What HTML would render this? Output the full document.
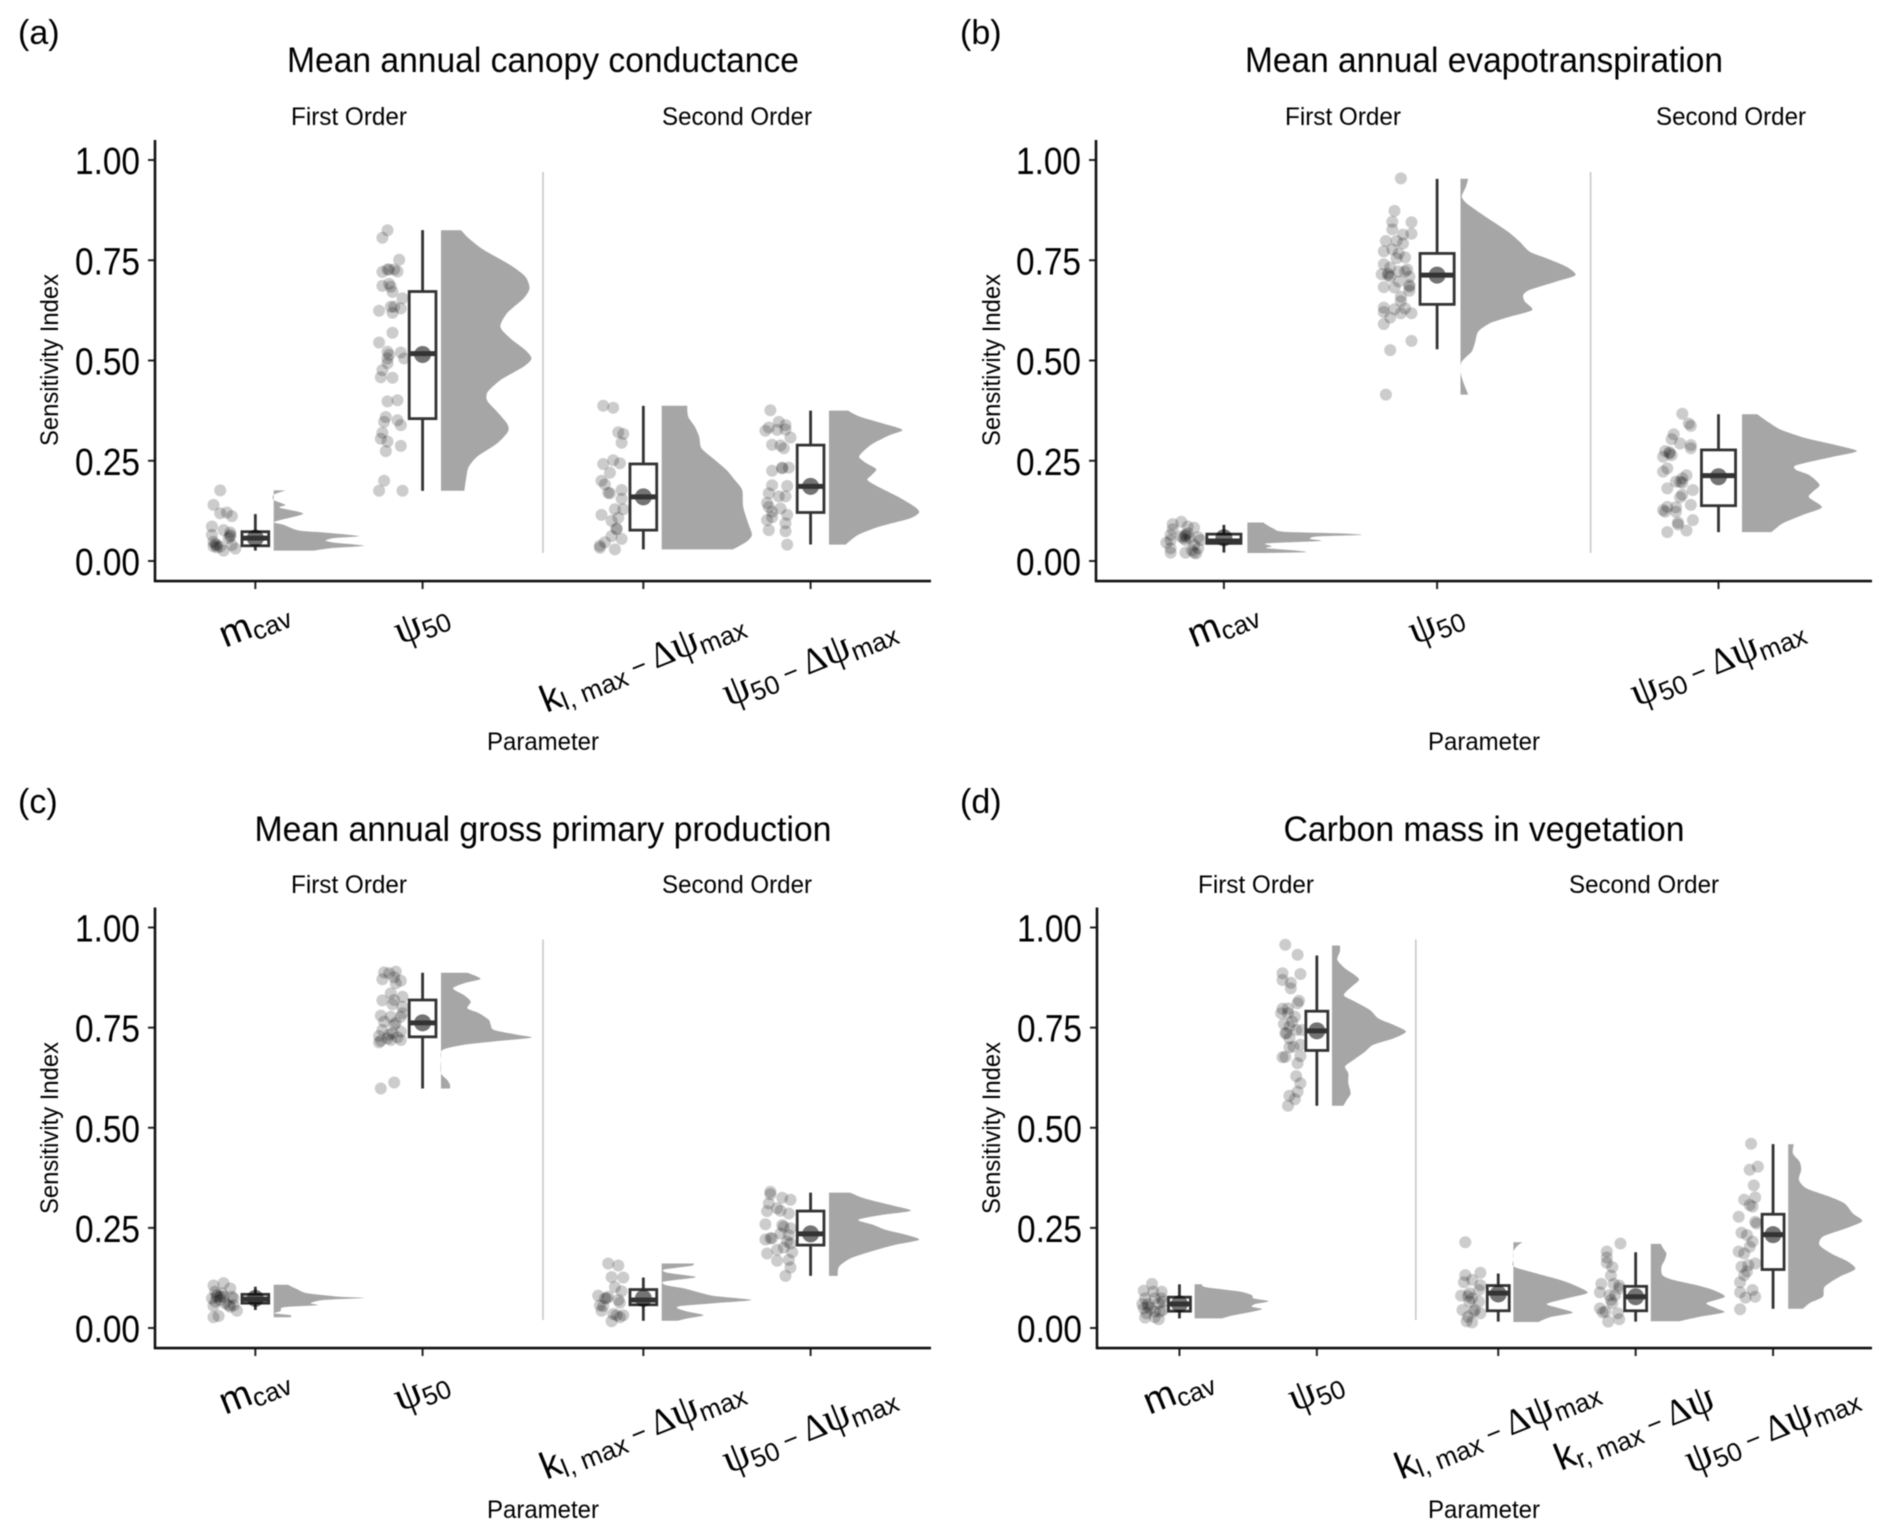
<!DOCTYPE html>
<html lang="en">
<head>
<meta charset="utf-8">
<title>Sensitivity index raincloud plots</title>
<style>
html,body{margin:0;padding:0;background:#fff;}
svg{display:block;font-family:"Liberation Sans",sans-serif;filter:blur(0.45px);}
.panel-tag{font-size:34px;fill:#000;}
.chart-title{font-size:35px;fill:#000;}
.facet,.axis-title{font-size:25px;fill:#000;}
.y-tick{font-size:38px;fill:#000;}
.x-label{font-size:36px;fill:#000;}
</style>
</head>
<body>
<svg id="figure" xmlns="http://www.w3.org/2000/svg" width="1892" height="1538" viewBox="0 0 1892 1538">
  <rect x="0" y="0" width="1892" height="1538" fill="#fff"/>

  <text class="panel-tag" x="18" y="44">(a)</text>
  <text class="chart-title" x="543" y="72" text-anchor="middle" textLength="512" lengthAdjust="spacingAndGlyphs">Mean annual canopy conductance</text>
  <text class="facet" x="349" y="125" text-anchor="middle" textLength="116" lengthAdjust="spacingAndGlyphs">First Order</text>
  <text class="facet" x="737" y="125" text-anchor="middle" textLength="150" lengthAdjust="spacingAndGlyphs">Second Order</text>
  <text class="axis-title" transform="translate(58,360) rotate(-90)" text-anchor="middle" textLength="172" lengthAdjust="spacingAndGlyphs">Sensitivity Index</text>
  <text class="axis-title" x="543" y="750" text-anchor="middle" textLength="112" lengthAdjust="spacingAndGlyphs">Parameter</text>

  <text class="panel-tag" x="960" y="44">(b)</text>
  <text class="chart-title" x="1484" y="72" text-anchor="middle" textLength="478" lengthAdjust="spacingAndGlyphs">Mean annual evapotranspiration</text>
  <text class="facet" x="1343" y="125" text-anchor="middle" textLength="116" lengthAdjust="spacingAndGlyphs">First Order</text>
  <text class="facet" x="1731" y="125" text-anchor="middle" textLength="150" lengthAdjust="spacingAndGlyphs">Second Order</text>
  <text class="axis-title" transform="translate(1000,360) rotate(-90)" text-anchor="middle" textLength="172" lengthAdjust="spacingAndGlyphs">Sensitivity Index</text>
  <text class="axis-title" x="1484" y="750" text-anchor="middle" textLength="112" lengthAdjust="spacingAndGlyphs">Parameter</text>

  <text class="panel-tag" x="18" y="813">(c)</text>
  <text class="chart-title" x="543" y="841" text-anchor="middle" textLength="577" lengthAdjust="spacingAndGlyphs">Mean annual gross primary production</text>
  <text class="facet" x="349" y="893" text-anchor="middle" textLength="116" lengthAdjust="spacingAndGlyphs">First Order</text>
  <text class="facet" x="737" y="893" text-anchor="middle" textLength="150" lengthAdjust="spacingAndGlyphs">Second Order</text>
  <text class="axis-title" transform="translate(58,1128) rotate(-90)" text-anchor="middle" textLength="172" lengthAdjust="spacingAndGlyphs">Sensitivity Index</text>
  <text class="axis-title" x="543" y="1518" text-anchor="middle" textLength="112" lengthAdjust="spacingAndGlyphs">Parameter</text>

  <text class="panel-tag" x="960" y="813">(d)</text>
  <text class="chart-title" x="1484" y="841" text-anchor="middle" textLength="401" lengthAdjust="spacingAndGlyphs">Carbon mass in vegetation</text>
  <text class="facet" x="1256" y="893" text-anchor="middle" textLength="116" lengthAdjust="spacingAndGlyphs">First Order</text>
  <text class="facet" x="1644" y="893" text-anchor="middle" textLength="150" lengthAdjust="spacingAndGlyphs">Second Order</text>
  <text class="axis-title" transform="translate(1000,1128) rotate(-90)" text-anchor="middle" textLength="172" lengthAdjust="spacingAndGlyphs">Sensitivity Index</text>
  <text class="axis-title" x="1484" y="1518" text-anchor="middle" textLength="112" lengthAdjust="spacingAndGlyphs">Parameter</text>
</svg>
<script>
/* ---------- shared axis data ---------- */
const yTickValues = [0, 0.25, 0.5, 0.75, 1];
const yTickLabels = ["0.00", "0.25", "0.50", "0.75", "1.00"];

/* label segments: [text, style] */
const labelMcav = [["m","main"],["cav","sub"]];
const labelPsi50 = [["ψ","greek"],["50","sub"]];
const labelKlMax = [["k","main"],["l, max","sub"],[" − ","op"],["Δ","delta"],["ψ","greek"],["max","sub"]];
const labelKrMax = [["k","main"],["r, max","sub"],[" − ","op"],["Δ","delta"],["ψ","greek"]];
const labelPsi50Max = [["ψ","greek"],["50","sub"],[" − ","op"],["Δ","delta"],["ψ","greek"],["max","sub"]];

/* ---------- panel a ---------- */
const aCategories = [labelMcav, labelPsi50, labelKlMax, labelPsi50Max];
const aFacetSizes = [2, 2];
/* box stats: min, q1, median, q3, max, mean */
const aBoxStats = [
  [.026,.038,.057,.073,.117,.057],
  [.175,.355,.517,.672,.825,.515],
  [.029,.077,.160,.242,.387,.160],
  [.041,.121,.186,.289,.375,.186]
];
const aValues = [
  [.176,.140,.119,.121,.112,.086,.065,.077,.065,.057,.071,.048,.042,.040,.036,.040,.026,.031,.034,.037,.061],
  [.825,.806,.751,.721,.727,.727,.727,.722,.686,.691,.684,.671,.655,.624,.634,.634,.630,.619,.569,.545,.522,.514,.505,.520,.505,.493,.476,.458,.457,.398,.401,.359,.347,.351,.339,.320,.305,.298,.274,.287,.200,.175,.175],
  [.387,.382,.321,.317,.295,.242,.251,.244,.220,.200,.191,.170,.177,.155,.129,.129,.115,.108,.100,.079,.062,.055,.047,.033,.029,.038,.081,.169],
  [.376,.347,.333,.325,.327,.339,.328,.308,.290,.288,.281,.225,.233,.233,.189,.187,.169,.161,.161,.145,.135,.131,.123,.109,.102,.115,.094,.077,.074,.041,.231]
];
const aJitter = [
  [-.21,-.25,-.21,-.17,-.14,-.26,-.26,-.19,-.15,-.16,-.15,-.25,-.24,-.23,-.21,-.14,-.19,-.12,-.23,-.25,-.15],
  [-.21,-.24,-.14,-.24,-.21,-.20,-.17,-.15,-.24,-.20,-.19,-.18,-.12,-.26,-.19,-.17,-.13,-.18,-.18,-.26,-.21,-.20,-.21,-.13,-.11,-.21,-.24,-.25,-.18,-.21,-.15,-.22,-.23,-.15,-.13,-.24,-.25,-.21,-.22,-.13,-.23,-.26,-.12],
  [-.24,-.18,-.15,-.12,-.13,-.24,-.18,-.14,-.20,-.25,-.23,-.21,-.13,-.13,-.12,-.17,-.25,-.15,-.19,-.16,-.19,-.13,-.23,-.26,-.17,-.26,-.16,-.20],
  [-.24,-.19,-.25,-.27,-.20,-.15,-.15,-.12,-.23,-.18,-.16,-.23,-.17,-.13,-.23,-.14,-.25,-.19,-.15,-.26,-.25,-.18,-.23,-.23,-.26,-.14,-.15,-.25,-.15,-.14,-.17]
];
const aCloudLevels = [
  [.176,.165,.152,.140,.133,.118,.098,.090,.076,.071,.062,.057,.051,.046,.038,.032,.026],
  [.825,.805,.776,.738,.709,.680,.655,.618,.584,.555,.526,.505,.485,.451,.422,.401,.377,.343,.323,.293,.260,.235,.210,.175],
  [.387,.360,.335,.310,.281,.252,.227,.202,.177,.135,.094,.065,.048,.029],
  [.375,.360,.343,.327,.314,.293,.273,.259,.244,.229,.214,.202,.185,.160,.135,.121,.106,.086,.065,.041]
];
const aCloudDensity = [
  [.07,0,0,.07,.036,.176,.004,.06,.15,.30,.51,.36,.31,.36,.54,.34,.24],
  [.12,.166,.255,.415,.505,.529,.495,.395,.355,.415,.505,.541,.495,.355,.28,.275,.325,.395,.401,.335,.216,.166,.152,.14],
  [.152,.158,.198,.224,.238,.317,.387,.437,.481,.487,.517,.539,.507,.427],
  [.114,.184,.323,.439,.363,.263,.204,.180,.224,.283,.254,.230,.294,.413,.513,.539,.483,.303,.174,.100]
];

/* ---------- panel b ---------- */
const bCategories = [labelMcav, labelPsi50, labelPsi50Max];
const bFacetSizes = [2, 1];
const bBoxStats = [
  [.021,.044,.050,.067,.090,.058],
  [.528,.640,.713,.767,.953,.713],
  [.072,.138,.213,.277,.366,.210]
];
const bValues = [
  [.098,.092,.083,.086,.079,.065,.059,.062,.069,.057,.061,.057,.046,.052,.052,.040,.032,.032,.021,.021,.021,.019,.027,.065,.052],
  [.954,.873,.846,.827,.845,.816,.814,.798,.798,.792,.772,.777,.767,.755,.757,.740,.732,.727,.715,.713,.709,.722,.722,.709,.683,.682,.688,.674,.659,.648,.632,.621,.628,.618,.607,.630,.618,.591,.549,.526,.415,.697,.717,.684],
  [.367,.343,.337,.316,.304,.293,.289,.281,.274,.271,.264,.260,.231,.223,.214,.206,.198,.198,.195,.181,.177,.165,.159,.140,.135,.127,.134,.123,.123,.096,.091,.102,.072,.076,.268]
];
const bJitter = [
  [-.20,-.24,-.14,-.17,-.24,-.25,-.12,-.18,-.17,-.19,-.20,-.16,-.27,-.25,-.11,-.14,-.12,-.25,-.25,-.18,-.14,-.13,-.15,-.18,-.18],
  [-.17,-.20,-.21,-.21,-.12,-.12,-.16,-.24,-.19,-.16,-.25,-.21,-.18,-.19,-.15,-.25,-.22,-.14,-.26,-.23,-.22,-.18,-.15,-.13,-.25,-.20,-.13,-.13,-.17,-.17,-.25,-.25,-.20,-.17,-.22,-.15,-.12,-.25,-.12,-.22,-.24,-.18,-.23,-.13],
  [-.17,-.14,-.13,-.21,-.22,-.18,-.13,-.13,-.25,-.23,-.22,-.26,-.24,-.26,-.15,-.17,-.20,-.18,-.17,-.24,-.12,-.17,-.18,-.13,-.24,-.26,-.20,-.25,-.20,-.19,-.19,-.12,-.24,-.15,-.23]
];
const bCloudLevels = [
  [.096,.090,.081,.073,.069,.065,.061,.055,.050,.044,.037,.032,.026,.022,.020],
  [.953,.933,.909,.892,.871,.846,.821,.796,.771,.755,.734,.713,.697,.676,.663,.647,.626,.609,.593,.572,.543,.522,.497,.472,.447,.415],
  [.366,.347,.327,.306,.289,.274,.260,.239,.227,.214,.190,.173,.159,.134,.115,.094,.072]
];
const bCloudDensity = [
  [.075,.091,.122,.169,.419,.536,.325,.294,.341,.091,.114,.091,.231,.270,.06],
  [.036,.025,.006,.028,.083,.153,.223,.278,.325,.403,.497,.539,.450,.325,.294,.302,.336,.231,.138,.083,.067,.052,.005,0,.012,.036],
  [.072,.122,.184,.302,.441,.539,.427,.255,.255,.317,.364,.333,.314,.375,.286,.192,.138]
];

/* ---------- panel c ---------- */
const cCategories = [labelMcav, labelPsi50, labelKlMax, labelPsi50Max];
const cFacetSizes = [2, 2];
const cBoxStats = [
  [.045,.062,.072,.084,.103,.074],
  [.598,.727,.762,.819,.887,.762],
  [.018,.058,.070,.096,.126,.074],
  [.130,.207,.235,.292,.338,.235]
];
const cValues = [
  [.106,.112,.099,.091,.078,.074,.078,.078,.078,.074,.066,.070,.062,.055,.057,.057,.043,.053,.030,.027,.082,.087],
  [.888,.890,.886,.871,.876,.867,.861,.836,.827,.818,.819,.808,.802,.786,.780,.777,.765,.762,.777,.744,.757,.729,.740,.736,.723,.717,.719,.726,.719,.713,.732,.613,.598],
  [.161,.156,.127,.126,.102,.092,.081,.074,.070,.057,.063,.043,.035,.032,.032,.027,.017,.074,.078,.055],
  [.340,.334,.311,.325,.320,.299,.292,.293,.286,.259,.257,.249,.224,.221,.236,.232,.216,.201,.211,.189,.186,.168,.170,.151,.130,.195,.224,.253]
];
const cJitter = [
  [-.25,-.19,-.15,-.24,-.21,-.26,-.23,-.19,-.14,-.13,-.24,-.21,-.18,-.25,-.16,-.13,-.11,-.15,-.22,-.25,-.23,-.20],
  [-.23,-.16,-.20,-.24,-.17,-.13,-.16,-.19,-.12,-.24,-.17,-.18,-.12,-.12,-.25,-.19,-.23,-.16,-.13,-.24,-.17,-.26,-.13,-.18,-.21,-.25,-.19,-.15,-.13,-.26,-.20,-.17,-.25],
  [-.21,-.15,-.19,-.12,-.17,-.13,-.27,-.22,-.15,-.26,-.14,-.25,-.18,-.12,-.16,-.14,-.19,-.23,-.21,-.24],
  [-.24,-.24,-.25,-.17,-.12,-.20,-.26,-.18,-.13,-.27,-.17,-.12,-.23,-.27,-.18,-.13,-.14,-.16,-.12,-.11,-.26,-.20,-.13,-.12,-.15,-.20,-.24,-.16]
];
const cCloudLevels = [
  [.108,.097,.087,.078,.075,.070,.062,.057,.052,.042,.037,.032,.027],
  [.887,.879,.871,.861,.848,.831,.815,.798,.786,.769,.757,.744,.732,.725,.717,.707,.694,.669,.636,.619,.607,.598],
  [.161,.155,.146,.138,.127,.116,.107,.099,.091,.080,.070,.062,.055,.049,.041,.032,.024,.018],
  [.338,.324,.307,.293,.282,.270,.257,.245,.232,.220,.207,.191,.174,.153,.130]
];
const cCloudDensity = [
  [.084,.140,.200,.399,.539,.299,.220,.259,.060,.040,.004,.100,.10],
  [.158,.208,.234,.138,.072,.138,.178,.158,.228,.287,.297,.317,.457,.541,.357,.138,.008,0,0,.038,.054,.054],
  [.194,.174,.014,.034,.204,.014,.024,.134,.204,.314,.537,.314,.114,.094,.154,.250,.154,.094],
  [.126,.210,.369,.489,.309,.174,.269,.339,.469,.539,.389,.250,.130,.060,.052]
];

/* ---------- panel d ---------- */
const dCategories = [labelMcav, labelPsi50, labelKlMax, labelKrMax, labelPsi50Max];
const dFacetSizes = [2, 3];
const dBoxStats = [
  [.024,.042,.060,.077,.109,.060],
  [.555,.693,.742,.791,.930,.742],
  [.016,.043,.087,.106,.136,.085],
  [.016,.043,.078,.104,.189,.078],
  [.048,.146,.233,.284,.459,.233]
];
const dValues = [
  [.110,.093,.091,.091,.074,.074,.074,.060,.060,.062,.049,.049,.045,.037,.041,.041,.026,.027,.022,.053,.066],
  [.957,.932,.886,.884,.869,.862,.848,.817,.811,.797,.786,.786,.777,.759,.752,.744,.736,.736,.723,.707,.702,.701,.676,.677,.679,.661,.629,.611,.590,.580,.571,.555,.798,.744,.765],
  [.214,.138,.132,.114,.120,.107,.095,.087,.081,.080,.066,.066,.045,.041,.037,.028,.017,.014,.045,.074],
  [.211,.191,.176,.163,.152,.131,.110,.110,.106,.089,.082,.099,.070,.049,.039,.037,.041,.022,.016,.062,.082],
  [.460,.403,.395,.356,.326,.320,.307,.303,.278,.265,.261,.238,.232,.216,.203,.191,.186,.161,.153,.157,.141,.114,.089,.095,.078,.076,.047,.132]
];
const dJitter = [
  [-.20,-.26,-.19,-.13,-.25,-.18,-.13,-.27,-.23,-.15,-.26,-.21,-.12,-.24,-.18,-.14,-.25,-.18,-.15,-.23,-.12],
  [-.23,-.14,-.25,-.12,-.25,-.19,-.19,-.13,-.14,-.25,-.26,-.21,-.16,-.24,-.20,-.15,-.22,-.23,-.20,-.12,-.17,-.20,-.25,-.23,-.12,-.14,-.15,-.12,-.14,-.20,-.16,-.21,-.21,-.11,-.18],
  [-.24,-.13,-.24,-.25,-.19,-.13,-.14,-.21,-.27,-.22,-.14,-.21,-.26,-.18,-.13,-.22,-.23,-.19,-.17,-.19],
  [-.11,-.21,-.21,-.21,-.17,-.18,-.25,-.16,-.12,-.26,-.15,-.12,-.18,-.26,-.24,-.13,-.22,-.12,-.20,-.17,-.19],
  [-.16,-.11,-.17,-.14,-.13,-.21,-.17,-.15,-.25,-.13,-.12,-.23,-.19,-.15,-.17,-.25,-.21,-.13,-.23,-.18,-.19,-.24,-.24,-.15,-.13,-.20,-.24,-.21]
];
const dCloudLevels = [
  [.109,.102,.091,.082,.074,.067,.060,.053,.047,.038,.030,.024],
  [.955,.940,.919,.898,.881,.869,.852,.831,.815,.794,.773,.757,.740,.723,.707,.690,.669,.653,.636,.611,.586,.569,.555],
  [.214,.205,.191,.170,.153,.136,.120,.106,.088,.074,.060,.049,.038,.027,.015],
  [.210,.199,.186,.170,.153,.132,.120,.107,.095,.078,.062,.049,.039,.028,.017],
  [.459,.436,.415,.395,.370,.349,.328,.311,.286,.267,.249,.228,.207,.186,.166,.147,.128,.103,.078,.062,.048]
];
const dCloudDensity = [
  [.053,.08,.332,.417,.430,.539,.442,.417,.490,.381,.26,.20],
  [.058,.058,.039,.095,.167,.197,.143,.087,.167,.277,.337,.447,.539,.447,.301,.240,.155,.095,.119,.119,.136,.107,.083],
  [.066,.029,0,0,.005,.170,.340,.449,.541,.388,.243,.340,.432,.267,.182],
  [.073,.090,.114,.102,.078,.085,.163,.333,.454,.539,.405,.478,.534,.357,.211],
  [.041,.034,.083,.095,.078,.131,.301,.410,.471,.539,.422,.252,.228,.313,.434,.488,.374,.265,.252,.155,.107]
];

/* ---------- drawing ---------- */
const svgNS = "http://www.w3.org/2000/svg";
const figure = document.getElementById("figure");
const BOX_HALF = 0.08, CLOUD_OFFSET = 0.11, LABEL_ANGLE = -22;

function make(tag, parent) {
  const el = document.createElementNS(svgNS, tag);
  parent.appendChild(el);
  return el;
}
function set(el, props) {
  for (const k in props) el.setAttribute(k, props[k]);
  return el;
}
function makeXScale(left, right, facetSizes) {
  const totalUnits = facetSizes.reduce(function (s, n) { return s + n - 1 + 1.32; }, 0);
  const unit = (right - left) / totalUnits;
  return {
    unit: unit,
    sep: left + (facetSizes[0] - 1 + 1.32) * unit,
    at: function (i, offset) {
      const second = i >= facetSizes[0];
      const base = second ? left + (facetSizes[0] - 1 + 1.32) * unit : left;
      const slot = second ? i - facetSizes[0] : i;
      return base + (0.6 + slot + (offset || 0)) * unit;
    }
  };
}
function makeYScale(zeroPx, onePx) {
  return function (v) { return zeroPx + (onePx - zeroPx) * v; };
}
function cloudPath(levels, density, xAt, y) {
  const pts = levels.map(function (lv, k) { return [xAt(CLOUD_OFFSET + density[k]), y(lv)]; });
  const x0 = xAt(CLOUD_OFFSET);
  let d = "M" + x0.toFixed(1) + " " + pts[0][1].toFixed(1) + "L" + pts[0][0].toFixed(1) + " " + pts[0][1].toFixed(1);
  const t = 1 / 8;
  for (let k = 0; k < pts.length - 1; k++) {
    const p0 = pts[Math.max(k - 1, 0)], p1 = pts[k], p2 = pts[k + 1], p3 = pts[Math.min(k + 2, pts.length - 1)];
    d += "C" + (p1[0] + (p2[0] - p0[0]) * t).toFixed(1) + " " + (p1[1] + (p2[1] - p0[1]) * t).toFixed(1) + " " +
      (p2[0] - (p3[0] - p1[0]) * t).toFixed(1) + " " + (p2[1] - (p3[1] - p1[1]) * t).toFixed(1) + " " +
      p2[0].toFixed(1) + " " + p2[1].toFixed(1);
  }
  d += "L" + x0.toFixed(1) + " " + pts[pts.length - 1][1].toFixed(1) + "Z";
  return d;
}
function fillLabel(textEl, segments) {
  let shifted = 0;
  segments.forEach(function (seg) {
    const ts = make("tspan", textEl);
    ts.textContent = seg[0];
    const style = seg[1];
    const want = style === "sub" ? 5 : 0;
    if (want !== shifted) { ts.setAttribute("dy", want - shifted); shifted = want; }
    if (style === "sub") ts.setAttribute("font-size", "26");
    if (style === "main") ts.setAttribute("font-size", "38");
    if (style === "op") ts.setAttribute("font-size", "26");
    if (style === "delta") { ts.setAttribute("font-size", "36"); ts.setAttribute("font-family", '"Liberation Serif",serif'); }
    if (style === "greek") { ts.setAttribute("font-size", "42"); ts.setAttribute("font-family", '"Liberation Serif",serif'); }
  });
}
function drawPanel(id, left, right, zeroPx, onePx, facetSizes, categories, boxStats, values, jitter, cloudLevels, cloudDensity) {
  const x = makeXScale(left, right, facetSizes);
  const y = makeYScale(zeroPx, onePx);
  const group = make("g", figure);
  
  

  const sep = make("line", group);
  
  
  set(sep, { x1: x.sep, x2: x.sep, y1: y(0.97), y2: y(0.02), stroke: "#c8c8c8", "stroke-width": 1.6 });

  categories.forEach(function (cat, i) {
    const xAt = function (off) { return x.at(i, off); };

    values[i].forEach(function (v, k) {
      const pt = make("circle", group);
      
      
      set(pt, { cx: xAt(jitter[i][k]).toFixed(1), cy: y(v).toFixed(1), r: 6, fill: "#000", "fill-opacity": 0.2 });
    });

    const cloud = make("path", group);
    
    
    set(cloud, { d: cloudPath(cloudLevels[i], cloudDensity[i], xAt, y), fill: "#a6a6a6" });

    const s = boxStats[i];
    const whisker = make("line", group);
    
    
    set(whisker, { x1: xAt(0), x2: xAt(0), y1: y(s[4]), y2: y(s[0]), stroke: "#333", "stroke-width": 2.8 });

    const box = make("rect", group);
    
    
    set(box, { x: xAt(-BOX_HALF), y: y(s[3]), width: xAt(BOX_HALF) - xAt(-BOX_HALF), height: y(s[1]) - y(s[3]), fill: "#fff", stroke: "#333", "stroke-width": 2.8 });

    const mean = make("circle", group);
    
    
    set(mean, { cx: xAt(0), cy: y(s[5]), r: 8.5, fill: "#000", "fill-opacity": 0.55 });

    const median = make("line", group);
    
    
    set(median, { x1: xAt(-BOX_HALF), x2: xAt(BOX_HALF), y1: y(s[2]), y2: y(s[2]), stroke: "#333", "stroke-width": 5 });

    const tick = make("line", group);
    
    
    set(tick, { x1: xAt(0), x2: xAt(0), y1: y(-0.05), y2: y(-0.05) + 8, stroke: "#222", "stroke-width": 2 });

    const label = make("text", group);
    
    
    set(label, { class: "x-label", "text-anchor": "middle", x: xAt(0), y: 0 });
    fillLabel(label, cat);
    const len = label.getComputedTextLength();
    const cy = y(-0.05) + (len > 150 ? 83 : 45);
    label.setAttribute("y", cy + 9);
    label.setAttribute("transform", "rotate(" + LABEL_ANGLE + " " + xAt(0) + " " + cy + ")");
  });

  yTickValues.forEach(function (v, k) {
    const tick = make("line", group);
    
    
    set(tick, { x1: left - 7, x2: left, y1: y(v), y2: y(v), stroke: "#222", "stroke-width": 2 });

    const lab = make("text", group);
    
    
    set(lab, { class: "y-tick", x: left - 15, y: y(v) + 14, "text-anchor": "end", textLength: 65, lengthAdjust: "spacingAndGlyphs" });
    lab.textContent = yTickLabels[k];
  });

  const yAxis = make("line", group);
  
  
  set(yAxis, { x1: left, x2: left, y1: y(1.05), y2: y(-0.05) + 1, stroke: "#111", "stroke-width": 2.6 });

  const xAxis = make("line", group);
  
  
  set(xAxis, { x1: left - 1, x2: right, y1: y(-0.05), y2: y(-0.05), stroke: "#111", "stroke-width": 2.6 });
}

drawPanel("a", 155, 931, 561, 160, aFacetSizes, aCategories, aBoxStats, aValues, aJitter, aCloudLevels, aCloudDensity);
drawPanel("b", 1096, 1872, 561, 160, bFacetSizes, bCategories, bBoxStats, bValues, bJitter, bCloudLevels, bCloudDensity);
drawPanel("c", 155, 931, 1328, 927.5, cFacetSizes, cCategories, cBoxStats, cValues, cJitter, cCloudLevels, cCloudDensity);
drawPanel("d", 1097, 1872, 1328, 927.5, dFacetSizes, dCategories, dBoxStats, dValues, dJitter, dCloudLevels, dCloudDensity);
</script>
</body>
</html>
